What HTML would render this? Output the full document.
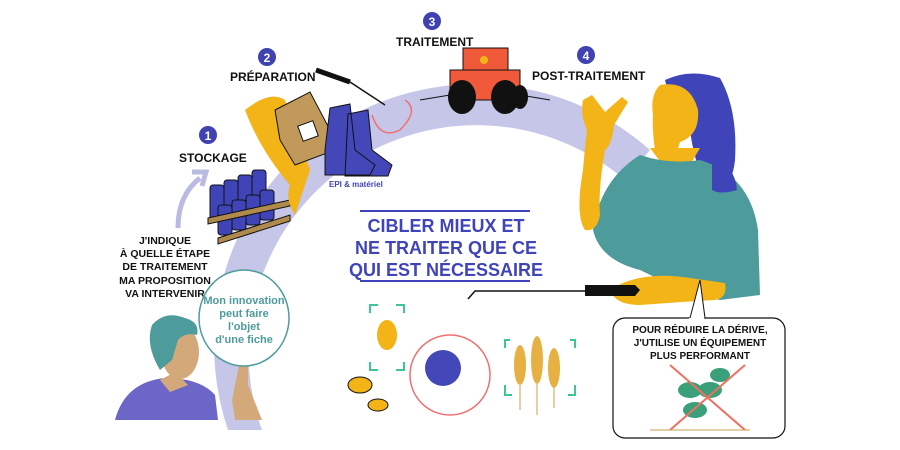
<!DOCTYPE html>
<html><head><meta charset="utf-8"><style>
body{margin:0;background:#fff;}
svg{display:block;font-family:"Liberation Sans",sans-serif;}
.b{font-weight:bold;font-size:12px;fill:#111;}
</style></head><body>
<svg width="900" height="450" viewBox="0 0 900 450" xmlns="http://www.w3.org/2000/svg">
<rect width="900" height="450" fill="#fff"/>
<path d="M228,430 A262,262 0 0 1 650,150 L625,180 A228,228 0 0 0 262,430 Z" fill="#c5c6e8"/>
<path d="M178,228 Q178,195 200,178" stroke="#b9bbe3" stroke-width="5" fill="none"/>
<path d="M192,172 L206,172 L202,186" stroke="#b9bbe3" stroke-width="5" fill="none"/>
<g font-weight="bold" font-size="12" fill="#fff" text-anchor="middle">
<circle cx="208" cy="135" r="9" fill="#3f42b0"/><text x="208" y="140">1</text>
<circle cx="267" cy="57" r="9" fill="#3f42b0"/><text x="267" y="62">2</text>
<circle cx="432" cy="21" r="9" fill="#3f42b0"/><text x="432" y="26">3</text>
<circle cx="586" cy="55" r="9" fill="#3f42b0"/><text x="586" y="60">4</text>
</g>
<text class="b" x="179" y="162">STOCKAGE</text>
<text class="b" x="230" y="81">PRÉPARATION</text>
<text class="b" x="396" y="46">TRAITEMENT</text>
<text class="b" x="532" y="80">POST-TRAITEMENT</text>
<g fill="#3f45b8" stroke="#111" stroke-width="1">
<rect x="210" y="185" width="14" height="35" rx="3"/><rect x="224" y="180" width="14" height="35" rx="3"/>
<rect x="238" y="175" width="14" height="35" rx="3"/><rect x="252" y="170" width="14" height="35" rx="3"/>
<rect x="218" y="205" width="14" height="30" rx="3"/><rect x="232" y="200" width="14" height="30" rx="3"/>
<rect x="246" y="195" width="14" height="30" rx="3"/><rect x="260" y="190" width="14" height="30" rx="3"/>
</g>
<path d="M208,218 L290,200 L290,206 L208,224Z M218,238 L290,215 L290,221 L218,244Z" fill="#b08a4d" stroke="#111"/>
<path d="M245,110 Q270,90 285,100 Q300,140 310,170 Q300,200 295,215 Q285,200 290,185 Q260,150 245,110Z" fill="#f3b417"/>
<path d="M275,110 L310,92 L330,130 L335,150 L295,165 L280,140Z" fill="#c19a5b" stroke="#111"/>
<rect x="300" y="123" width="16" height="16" fill="#fff" stroke="#111" transform="rotate(-20 308 131)"/>
<path d="M330,108 L350,104 L355,150 L375,165 L370,175 L325,175 L325,150Z M348,114 L368,110 L372,150 L392,165 L388,176 L345,176Z" fill="#4347b8" stroke="#111"/>
<text x="329" y="187" font-size="8" font-weight="bold" fill="#3f45b8">EPI &amp; matériel</text>
<path d="M316,70 L350,82" stroke="#111" stroke-width="5"/><path d="M350,82 L385,105" stroke="#111" stroke-width="1.5"/>
<path d="M372,115 Q380,140 400,130 Q420,110 405,100" fill="none" stroke="#f07070" stroke-width="1.5"/>
<rect x="463" y="48" width="45" height="30" fill="#f05a3a" stroke="#111"/>
<rect x="450" y="70" width="70" height="30" fill="#f05a3a" stroke="#111"/>
<ellipse cx="462" cy="97" rx="14" ry="17" fill="#111"/><ellipse cx="505" cy="97" rx="14" ry="17" fill="#111"/>
<ellipse cx="520" cy="97" rx="8" ry="12" fill="#111"/>
<circle cx="484" cy="60" r="4" fill="#f3b417"/>
<path d="M420,100 L450,95 M520,95 L550,100" stroke="#111"/>
<path d="M665,80 Q690,68 720,78 Q738,110 735,160 Q732,190 712,195 Q695,170 690,130 Q672,110 665,80Z" fill="#3f45b8"/>
<path d="M660,85 Q690,80 698,110 Q700,135 680,142 L676,155 L655,150 Q652,130 653,115 Q650,95 660,85Z" fill="#f3b417"/>
<path d="M650,148 L700,148 L690,165 L665,168Z" fill="#f3b417"/>
<path d="M640,155 Q670,165 700,160 Q750,175 758,230 L760,295 L720,300 Q680,290 640,270 Q600,260 593,230 Q600,180 640,155Z" fill="#4e9b9c"/>
<path d="M712,158 Q735,165 737,190 Q720,195 712,190Z" fill="#3f45b8"/>
<path d="M583,100 L592,95 L605,112 L622,97 L628,102 L614,125 Q612,145 605,150 Q598,190 600,215 Q597,232 585,230 Q575,215 583,170 Q585,145 587,130 Q580,115 583,100Z" fill="#f3b417"/>
<path d="M610,290 Q640,270 690,278 L725,283 Q728,298 715,300 Q680,302 640,305 Q615,305 610,290Z" fill="#f3b417"/>
<path d="M585,285 L635,285 L640,290 L635,296 L585,296Z" fill="#111"/>
<path d="M585,291 L475,291 L468,299" stroke="#111" stroke-width="1.5" fill="none"/>
<path d="M360,211 L530,211" stroke="#3f45b8" stroke-width="2"/>
<g font-weight="bold" font-size="18" fill="#3f45b8" text-anchor="middle">
<text x="446" y="232">CIBLER MIEUX ET</text>
<text x="446" y="254">NE TRAITER QUE CE</text>
<text x="446" y="276">QUI EST NÉCESSAIRE</text>
</g>
<path d="M360,281 L530,281" stroke="#3f45b8" stroke-width="2"/>
<circle cx="450" cy="375" r="40" fill="none" stroke="#f07070" stroke-width="1.5"/>
<circle cx="443" cy="368" r="18" fill="#4347b8"/>
<ellipse cx="387" cy="335" rx="10" ry="15" fill="#f3b417"/>
<path d="M378,305 L370,305 L370,313 M396,305 L404,305 L404,313 M370,362 L370,370 L378,370 M404,362 L404,370 L396,370" stroke="#3dc69a" stroke-width="2" fill="none"/>
<ellipse cx="360" cy="385" rx="12" ry="8" fill="#f3b417" stroke="#111"/><ellipse cx="378" cy="405" rx="10" ry="6" fill="#f3b417" stroke="#111"/>
<g fill="#e6b042"><ellipse cx="520" cy="365" rx="6" ry="20"/><ellipse cx="537" cy="360" rx="6" ry="24"/><ellipse cx="554" cy="368" rx="6" ry="20"/></g>
<path d="M520,385 L520,410 M537,384 L537,415 M554,388 L554,408" stroke="#c9a050"/>
<path d="M510,340 L505,340 L505,348 M570,340 L575,340 L575,348 M505,385 L505,395 L512,395 M575,385 L575,395 L568,395" stroke="#3dc69a" stroke-width="2" fill="none"/>
<!-- man -->
<path d="M115,420 Q125,382 165,378 Q200,378 215,395 L218,420Z" fill="#6c66c8"/>
<path d="M160,380 L175,372 L188,385 L170,392Z" fill="#d4a97a"/>
<ellipse cx="180" cy="352" rx="19" ry="27" fill="#d4a97a"/>
<path d="M160,370 Q145,345 152,325 Q165,310 185,318 Q200,322 197,335 Q185,332 178,340 L172,360 Z" fill="#4e9b9c"/>
<path d="M232,400 L240,360 L248,360 L248,385 L262,420 L235,420Z" fill="#d4a97a"/>
<g font-weight="bold" font-size="10.5" fill="#111" text-anchor="middle">
<text x="165" y="244">J'INDIQUE</text>
<text x="165" y="257">À QUELLE ÉTAPE</text>
<text x="165" y="270">DE TRAITEMENT</text>
<text x="165" y="284">MA PROPOSITION</text>
<text x="165" y="297">VA INTERVENIR</text>
</g>
<ellipse cx="244" cy="318" rx="45" ry="48" fill="#fff" stroke="#4e9b9c" stroke-width="1.5"/>
<g font-size="11" fill="#4e9b9c" text-anchor="middle" font-weight="bold">
<text x="244" y="304">Mon innovation</text><text x="244" y="317">peut faire</text>
<text x="244" y="330">l'objet</text><text x="244" y="343">d'une fiche</text>
</g>
<rect x="613" y="318" width="172" height="120" rx="12" fill="#fff" stroke="#111" stroke-width="1.2"/>
<path d="M690,318 L700,280 L705,318" fill="#fff" stroke="#111"/>
<path d="M689,319 L704,319" stroke="#fff" stroke-width="2"/>
<g font-weight="bold" font-size="10" fill="#111" text-anchor="middle">
<text x="700" y="333">POUR RÉDUIRE LA DÉRIVE,</text>
<text x="700" y="346">J'UTILISE UN ÉQUIPEMENT</text>
<text x="700" y="359">PLUS PERFORMANT</text>
</g>
<ellipse cx="690" cy="390" rx="12" ry="8" fill="#3aa07a"/><ellipse cx="710" cy="390" rx="12" ry="8" fill="#3aa07a"/>
<ellipse cx="695" cy="410" rx="12" ry="8" fill="#3aa07a"/><ellipse cx="720" cy="375" rx="10" ry="7" fill="#3aa07a"/>
<path d="M670,365 L745,430 M745,365 L670,430" stroke="#f07060" stroke-width="2"/>
<path d="M650,430 L750,430" stroke="#c9a050"/>
</svg>
</body></html>
